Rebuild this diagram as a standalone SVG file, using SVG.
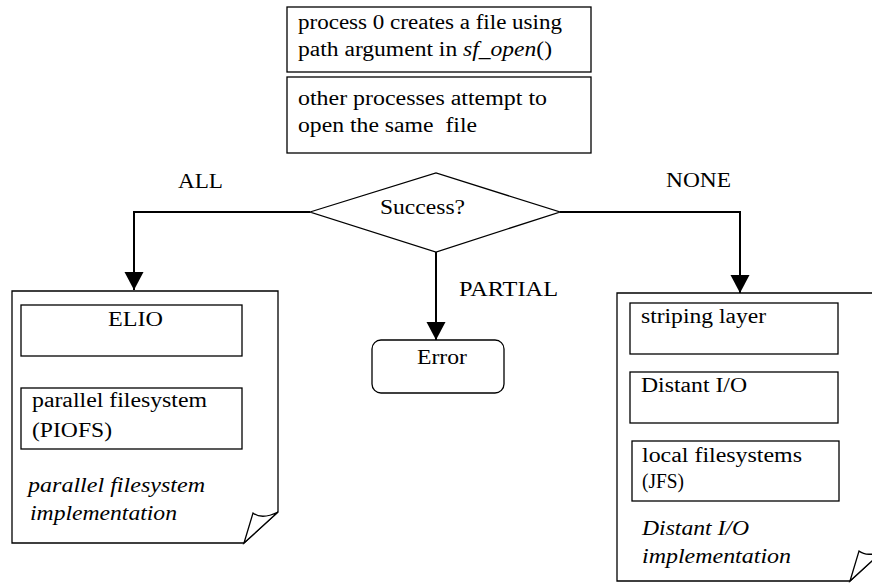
<svg xmlns="http://www.w3.org/2000/svg" width="872" height="583" viewBox="0 0 872 583">
<defs>
<style>
text{font-family:"Liberation Serif","Times New Roman",serif;font-size:20px;fill:#000}
.it{font-style:italic}
.box{fill:#fff;stroke:#000;stroke-width:1.3}
.doc{fill:#fff;stroke:#000;stroke-width:1.3}
.conn{fill:none;stroke:#000;stroke-width:2}
</style>
<marker id="arr" markerWidth="18" markerHeight="20" refX="18" refY="9.5" orient="auto" markerUnits="userSpaceOnUse" viewBox="0 0 18 19">
<path d="M0,0 L18,9.5 L0,19 Z" fill="#000"/>
</marker>
</defs>
<rect width="872" height="583" fill="#fff"/>

<g id="create">
<rect class="box" x="287" y="7" width="304" height="65"/>
<text x="298" y="29" textLength="264" lengthAdjust="spacingAndGlyphs">process 0 creates a file using</text>
<text x="298" y="56" textLength="254" lengthAdjust="spacingAndGlyphs">path argument in <tspan class="it">sf_open</tspan>()</text>
</g>

<g id="open">
<rect class="box" x="287" y="77" width="304" height="76"/>
<text x="298" y="105" textLength="249" lengthAdjust="spacingAndGlyphs">other processes attempt to</text>
<text x="298" y="132" xml:space="preserve" textLength="179" lengthAdjust="spacingAndGlyphs">open the same  file</text>
</g>

<g id="decision">
<polygon class="box" points="310,212 436,173 560,212 436,252"/>
<text x="380" y="214" textLength="85" lengthAdjust="spacingAndGlyphs">Success?</text>
</g>

<g id="parallel-doc">
<path class="doc" d="M12,291 H278 V512 L244,543 H12 Z"/>
<path class="doc" d="M278,512 Q262,520 253,513 L244,543 Z"/>
<rect class="box" x="21" y="305" width="221" height="51"/>
<text x="108" y="326" textLength="55" lengthAdjust="spacingAndGlyphs">ELIO</text>
<rect class="box" x="21" y="388" width="221" height="61"/>
<text x="32" y="407" textLength="175" lengthAdjust="spacingAndGlyphs">parallel filesystem</text>
<text x="32" y="437" textLength="80" lengthAdjust="spacingAndGlyphs">(PIOFS)</text>
<text class="it" x="28" y="492" textLength="177" lengthAdjust="spacingAndGlyphs">parallel filesystem</text>
<text class="it" x="30" y="520" textLength="147" lengthAdjust="spacingAndGlyphs">implementation</text>
</g>

<g id="error">
<rect class="box" x="372" y="340" width="132" height="53" rx="9"/>
<text x="417" y="364" textLength="50" lengthAdjust="spacingAndGlyphs">Error</text>
</g>

<g id="distant-doc">
<path class="doc" d="M617,293 H884 V550 L850,581 H617 Z"/>
<path class="doc" d="M884,550 Q868,558 859,551 L850,581 Z"/>
<rect class="box" x="630" y="303" width="208" height="51"/>
<text x="641" y="323" textLength="125" lengthAdjust="spacingAndGlyphs">striping layer</text>
<rect class="box" x="630" y="372" width="208" height="51"/>
<text x="641" y="392" textLength="106" lengthAdjust="spacingAndGlyphs">Distant I/O</text>
<rect class="box" x="632" y="441" width="207" height="60"/>
<text x="642" y="462" textLength="160" lengthAdjust="spacingAndGlyphs">local filesystems</text>
<text x="642" y="488" textLength="42" lengthAdjust="spacingAndGlyphs">(JFS)</text>
<text class="it" x="642" y="535" textLength="107" lengthAdjust="spacingAndGlyphs">Distant I/O</text>
<text class="it" x="642" y="563" textLength="149" lengthAdjust="spacingAndGlyphs">implementation</text>
</g>

<g id="connectors">
<polyline class="conn" points="310,212 134,212 134,290" marker-end="url(#arr)"/>
<polyline class="conn" points="560,212 740,212 740,293" marker-end="url(#arr)"/>
<line class="conn" x1="436" y1="252" x2="436" y2="340" marker-end="url(#arr)"/>
<text x="178" y="188" textLength="45" lengthAdjust="spacingAndGlyphs">ALL</text>
<text x="666" y="187" textLength="65" lengthAdjust="spacingAndGlyphs">NONE</text>
<text x="459" y="296" textLength="99" lengthAdjust="spacingAndGlyphs">PARTIAL</text>
</g>
</svg>
